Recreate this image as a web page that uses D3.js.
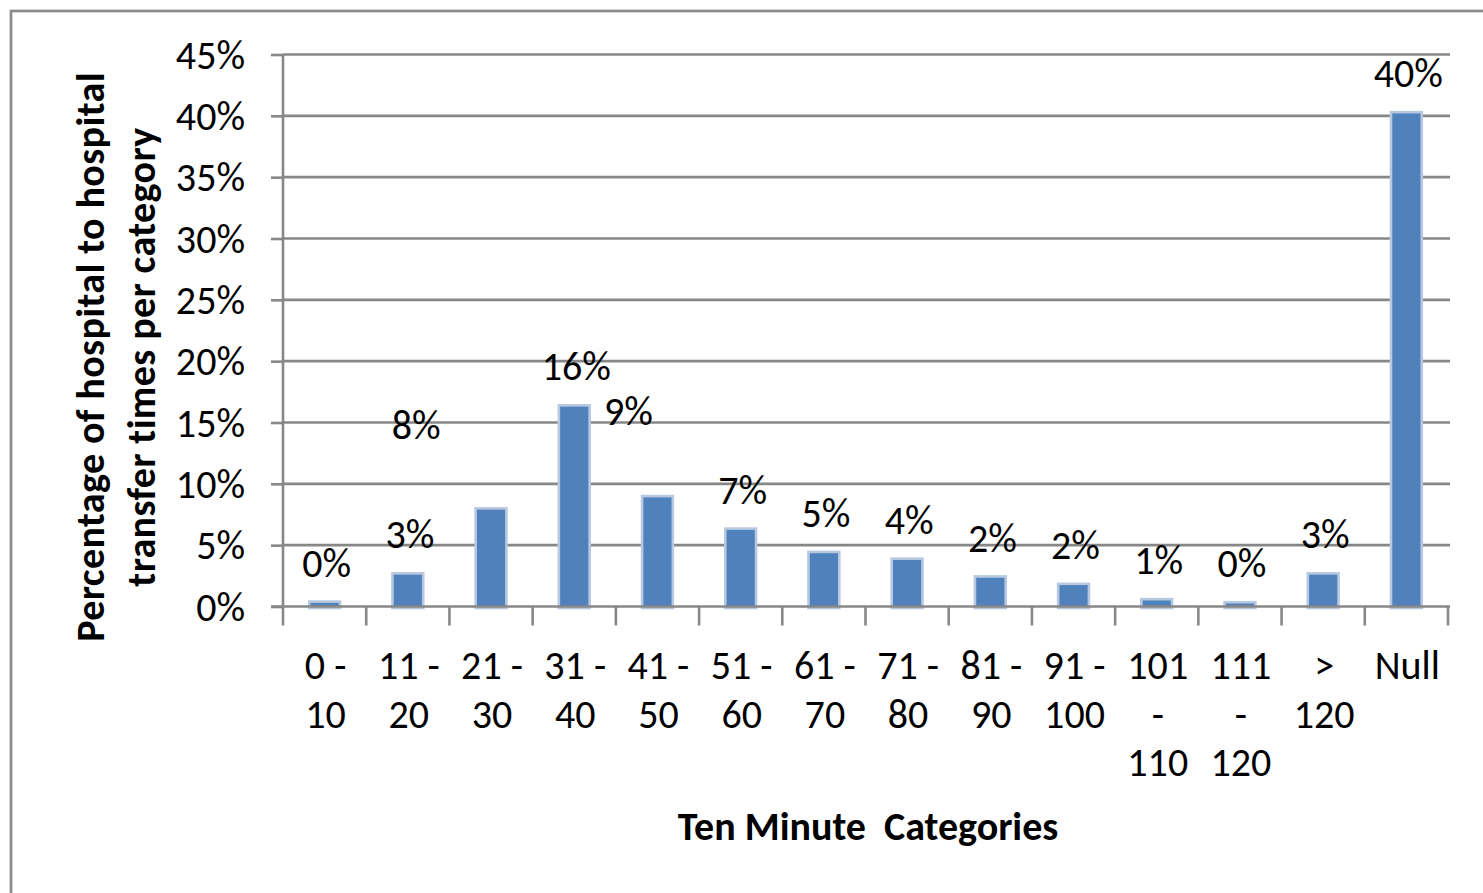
<!DOCTYPE html>
<html>
<head>
<meta charset="utf-8">
<script src="https://cdn.jsdelivr.net/npm/d3@7/dist/d3.min.js"></script>
<style>
  html, body { margin: 0; padding: 0; background: #fff; }
  svg { display: block; font-family: Calibri, Carlito, Lato, "Open Sans", sans-serif; }
</style>
</head>
<body>
<svg id="chart" width="1483" height="893"></svg>
<script>
// ---------- data ----------
const categories = ["0-10","11-20","21-30","31-40","41-50","51-60","61-70","71-80","81-90","91-100","101-110","111-120",">120","Null"];
const categoryLabelLines = [["0 -","10"],["11 -","20"],["21 -","30"],["31 -","40"],["41 -","50"],["51 -","60"],["61 -","70"],["71 -","80"],["81 -","90"],["91 -","100"],["101","-","110"],["111","-","120"],[">","120"],["Null"]];
const values = [0.4, 2.7, 8.0, 16.4, 9.0, 6.35, 4.45, 3.9, 2.45, 1.85, 0.6, 0.35, 2.7, 40.3];
const valueLabels = ["0%","3%","8%","16%","9%","7%","5%","4%","2%","2%","1%","0%","3%","40%"];
// labels that Excel placed away from their bars: [category position (index), value level]
const displacedLabelCat = {2: 1.1, 4: 3.65};
const displacedLabelAt = {2: 14.8, 4: 15.9};
const yTicks = [0,5,10,15,20,25,30,35,40,45];
const xTitle = "Ten Minute  Categories";
const yTitleLines = ["Percentage of hospital to hospital","transfer times per category"];

(function () {
// ---------- layout ----------
const svg = d3.select("#chart");
const pLeft = 283, pRight = 1448, pTop = 54.5, pBottom = 606.5;
const grey = "#878787";
const fontSize = 40;

// frame
svg.append("rect").attr("x", 11).attr("y", 11).attr("width", 1490).attr("height", 900)
  .attr("fill", "none").attr("stroke", "#8a8a8a").attr("stroke-width", 2.7);

const x = d3.scaleBand().domain(categories).range([pLeft, pRight]).paddingInner(0).paddingOuter(0);
const xPos = d3.scaleLinear().domain([0, categories.length]).range([pLeft, pRight]);
const y = d3.scaleLinear().domain([0, 45]).range([pBottom, pTop]);

// gridlines
svg.append("g").selectAll("line").data(yTicks.filter(d => d > 0)).join("line")
  .attr("x1", pLeft).attr("x2", 1450).attr("y1", d => y(d)).attr("y2", d => y(d))
  .attr("stroke", grey).attr("stroke-width", 2.6);

// bars
const barW = x.bandwidth() * 0.37;
svg.append("g").selectAll("rect").data(values).join("rect")
  .attr("x", (d, i) => x(categories[i]) + x.bandwidth() / 2 - barW / 2)
  .attr("width", barW)
  .attr("y", d => y(d))
  .attr("height", d => y(0) - y(d) + 1.5)
  .attr("fill", "#4F81BD")
  .attr("stroke", "#B9C8E1").attr("stroke-width", 2.6);

// y axis
const yAxis = d3.axisLeft(y).tickValues(yTicks).tickFormat(d => d + "%").tickSize(12).tickPadding(26);
const gy = svg.append("g").attr("transform", `translate(${pLeft},0)`).call(yAxis);
gy.select(".domain").remove();
gy.selectAll(".tick line").attr("stroke", grey).attr("stroke-width", 2.6);
gy.selectAll(".tick text").attr("font-size", fontSize).attr("fill", "#000").attr("dy", "0.34em");
gy.attr("font-family", null).attr("font-size", null);
svg.append("line").attr("x1", pLeft).attr("x2", pLeft).attr("y1", pTop).attr("y2", pBottom + 19)
  .attr("stroke", grey).attr("stroke-width", 2.6);

// x axis baseline and boundary ticks
svg.append("line").attr("x1", pLeft - 12).attr("x2", 1450).attr("y1", pBottom).attr("y2", pBottom)
  .attr("stroke", grey).attr("stroke-width", 2.6);
svg.append("g").selectAll("line").data(d3.range(1, categories.length + 1)).join("line")
  .attr("x1", d => xPos(d)).attr("x2", d => xPos(d)).attr("y1", pBottom).attr("y2", pBottom + 19)
  .attr("stroke", grey).attr("stroke-width", 2.6);

// category labels
const catG = svg.append("g").attr("font-size", fontSize).attr("fill", "#000").attr("text-anchor", "middle");
categoryLabelLines.forEach((lines, i) => {
  const cx = x(categories[i]) + x.bandwidth() / 2 + 1;
  const t = catG.append("text");
  lines.forEach((ln, j) => t.append("tspan").attr("x", cx).attr("y", 679 + j * 48.5).text(ln));
});

// value labels
svg.append("g").attr("font-size", fontSize).attr("fill", "#000").attr("text-anchor", "middle")
  .selectAll("text").data(values).join("text")
  .attr("x", (d, i) => i in displacedLabelCat ? xPos(displacedLabelCat[i] + 0.5) : x(categories[i]) + x.bandwidth() / 2 + 2)
  .attr("y", (d, i) => i in displacedLabelAt ? y(displacedLabelAt[i]) : y(d) - 38.5)
  .attr("dy", "0.34em")
  .text((d, i) => valueLabels[i]);

// axis titles
svg.append("text").attr("x", 868).attr("y", 840).attr("text-anchor", "middle")
  .attr("font-size", fontSize).attr("font-weight", "bold").attr("fill", "#000").style("white-space", "pre").text(xTitle);
const yt = svg.append("text").attr("transform", "translate(0,357) rotate(-90)")
  .attr("text-anchor", "middle").attr("font-size", fontSize).attr("font-weight", "bold").attr("fill", "#000")
  .attr("letter-spacing", 0.4);
yTitleLines.forEach((ln, j) => yt.append("tspan").attr("x", 0).attr("y", 104 + j * 51).text(ln));
})();
</script>
</body>
</html>
